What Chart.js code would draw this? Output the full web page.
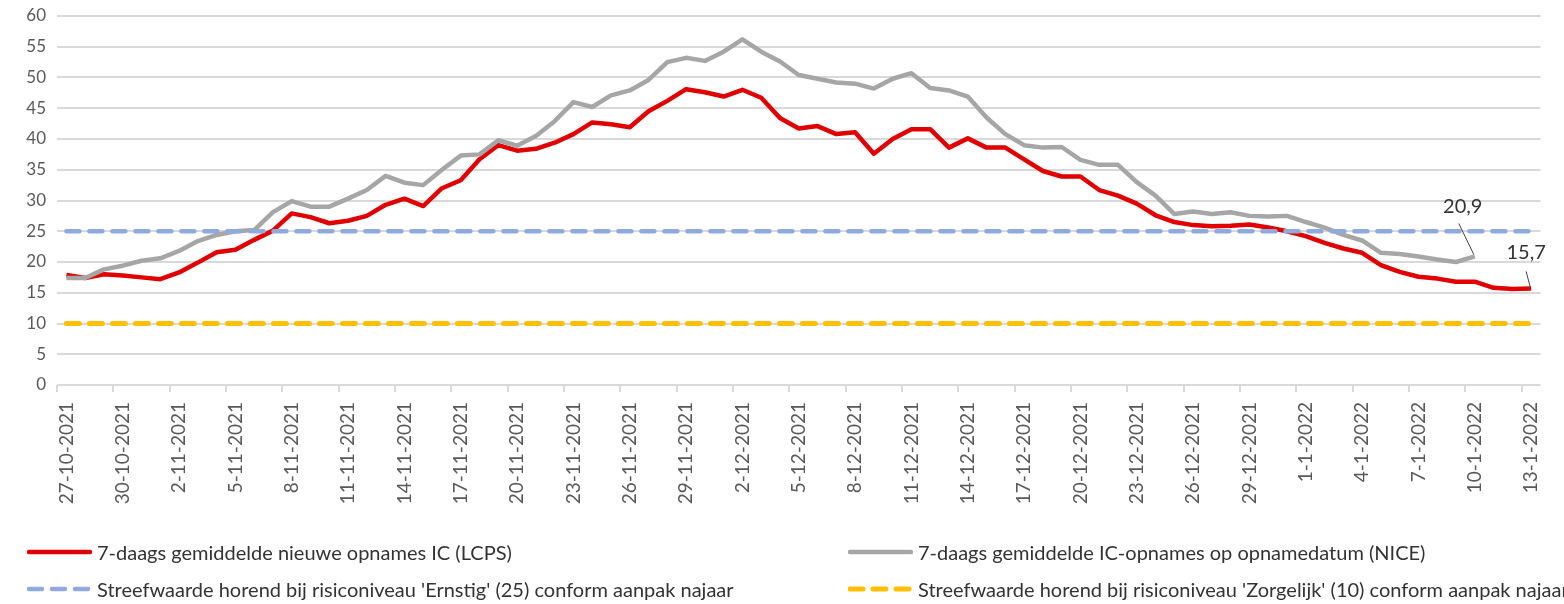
<!DOCTYPE html>
<html lang="nl">
<head>
<meta charset="UTF-8">
<title>IC-opnames</title>
<script src="https://cdn.jsdelivr.net/npm/chart.js"></script>
<style>
  html, body { margin: 0; padding: 0; background: #fff; overflow: hidden; }
  #wrap { position: relative; width: 1564px; height: 604px; overflow: hidden; }
  #grafiek { position: absolute; left: 0; top: 0; }
  .legenda {
    position: absolute; display: flex; align-items: center; white-space: nowrap;
    font-family: Lato, 'Liberation Sans', sans-serif; font-size: 20px; color: #333;
  }
  .legenda svg { margin-right: 5px; }
</style>
</head>
<body>
<div id="wrap">
  <canvas id="grafiek" width="1564" height="604"></canvas>

  <!-- legenda in twee kolommen -->
  <div class="legenda" style="left:27px; top:540px;">
    <svg width="65" height="8"><line x1="2" y1="4" x2="63" y2="4" stroke="#E00000" stroke-width="4.5" stroke-linecap="round"/></svg>
    <span>7-daags gemiddelde nieuwe opnames IC (LCPS)</span>
  </div>
  <div class="legenda" style="left:848px; top:540px;">
    <svg width="65" height="8"><line x1="2" y1="4" x2="63" y2="4" stroke="#A6A6A6" stroke-width="4.5" stroke-linecap="round"/></svg>
    <span>7-daags gemiddelde IC-opnames op opnamedatum (NICE)</span>
  </div>
  <div class="legenda" style="left:27px; top:577px;">
    <svg width="65" height="8"><line x1="2" y1="4" x2="63" y2="4" stroke="#8FAADC" stroke-width="4.5" stroke-linecap="round" stroke-dasharray="13 10"/></svg>
    <span>Streefwaarde horend bij risiconiveau 'Ernstig' (25) conform aanpak najaar</span>
  </div>
  <div class="legenda" style="left:848px; top:577px;">
    <svg width="65" height="8"><line x1="2" y1="4" x2="63" y2="4" stroke="#FFC000" stroke-width="5" stroke-linecap="round" stroke-dasharray="13 10"/></svg>
    <span>Streefwaarde horend bij risiconiveau 'Zorgelijk' (10) conform aanpak najaar</span>
  </div>
</div>

<script>
  // datums (27-10-2021 t/m 13-1-2022)
  const datums = [
    '27-10-2021', '28-10-2021', '29-10-2021', '30-10-2021', '31-10-2021',
    '1-11-2021', '2-11-2021', '3-11-2021', '4-11-2021', '5-11-2021', '6-11-2021', '7-11-2021', '8-11-2021',
    '9-11-2021', '10-11-2021', '11-11-2021', '12-11-2021', '13-11-2021', '14-11-2021', '15-11-2021',
    '16-11-2021', '17-11-2021', '18-11-2021', '19-11-2021', '20-11-2021', '21-11-2021', '22-11-2021',
    '23-11-2021', '24-11-2021', '25-11-2021', '26-11-2021', '27-11-2021', '28-11-2021', '29-11-2021', '30-11-2021',
    '1-12-2021', '2-12-2021', '3-12-2021', '4-12-2021', '5-12-2021', '6-12-2021', '7-12-2021', '8-12-2021',
    '9-12-2021', '10-12-2021', '11-12-2021', '12-12-2021', '13-12-2021', '14-12-2021', '15-12-2021',
    '16-12-2021', '17-12-2021', '18-12-2021', '19-12-2021', '20-12-2021', '21-12-2021', '22-12-2021',
    '23-12-2021', '24-12-2021', '25-12-2021', '26-12-2021', '27-12-2021', '28-12-2021', '29-12-2021',
    '30-12-2021', '31-12-2021',
    '1-1-2022', '2-1-2022', '3-1-2022', '4-1-2022', '5-1-2022', '6-1-2022', '7-1-2022', '8-1-2022',
    '9-1-2022', '10-1-2022', '11-1-2022', '12-1-2022', '13-1-2022'
  ];

  // 7-daags gemiddelde nieuwe opnames IC (LCPS)
  const lcps = [
    17.9, 17.4, 18.0, 17.8, 17.5, 17.2, 18.3, 19.9, 21.6, 22.0,
    23.6, 25.1, 27.9, 27.3, 26.3, 26.7, 27.5, 29.3, 30.3, 29.1,
    32.0, 33.3, 36.7, 39.0, 38.1, 38.4, 39.4, 40.8, 42.7, 42.4,
    41.9, 44.5, 46.2, 48.1, 47.6, 46.9, 48.0, 46.7, 43.4, 41.7,
    42.1, 40.8, 41.1, 37.6, 40.0, 41.6, 41.6, 38.6, 40.1, 38.6,
    38.6, 36.7, 34.8, 33.9, 33.9, 31.7, 30.8, 29.5, 27.6, 26.5,
    26.0, 25.8, 25.9, 26.1, 25.6, 25.0, 24.2, 23.1, 22.2, 21.5,
    19.5, 18.4, 17.6, 17.3, 16.8, 16.8, 15.8, 15.6, 15.7
  ];

  // 7-daags gemiddelde IC-opnames op opnamedatum (NICE), t/m 10-1-2022
  const nice = [
    17.4, 17.4, 18.8, 19.4, 20.2, 20.6, 21.8, 23.4, 24.4, 25.0,
    25.2, 28.1, 29.9, 29.0, 29.0, 30.3, 31.7, 34.0, 32.9, 32.5,
    35.0, 37.3, 37.5, 39.8, 38.9, 40.5, 42.9, 46.0, 45.2, 47.1,
    47.9, 49.6, 52.5, 53.2, 52.7, 54.2, 56.2, 54.2, 52.6, 50.4,
    49.8, 49.2, 49.0, 48.2, 49.8, 50.7, 48.3, 47.9, 46.9, 43.5,
    40.8, 39.0, 38.6, 38.7, 36.6, 35.8, 35.8, 33.0, 30.8, 27.8,
    28.2, 27.8, 28.1, 27.5, 27.4, 27.5, 26.5, 25.6, 24.4, 23.5,
    21.5, 21.3, 20.9, 20.4, 20.0, 20.9
  ];

  // streefwaarden
  const niveauErnstig = 25;
  const niveauZorgelijk = 10;

  // y-as
  const yMin = 0;
  const yMax = 60;
  const yStap = 5;

  // label bij het laatste punt van een lijn, met verbindingslijntje
  const eindLabels = {
    id: 'eindLabels',
    afterDatasetsDraw(chart) {
      const ctx = chart.ctx;
      const items = [
        { ds: 1, tekstDx: -12, tekstDy: -50, lijnDx: -16, lijnDy: -33 },
        { ds: 0, tekstDx: -5, tekstDy: -36, lijnDx: -5, lijnDy: -17 }
      ];
      ctx.save();
      items.forEach(item => {
        const data = chart.data.datasets[item.ds].data;
        const punt = chart.getDatasetMeta(item.ds).data[data.length - 1];
        const tekst = String(data[data.length - 1]).replace('.', ',');
        ctx.strokeStyle = '#404040';
        ctx.lineWidth = 1;
        ctx.beginPath();
        ctx.moveTo(punt.x + item.lijnDx, punt.y + item.lijnDy);
        ctx.lineTo(punt.x - 1, punt.y - 2);
        ctx.stroke();
        ctx.fillStyle = '#333';
        ctx.font = '20px Lato, "Liberation Sans", sans-serif';
        ctx.textAlign = 'center';
        ctx.textBaseline = 'middle';
        ctx.fillText(tekst, punt.x + item.tekstDx, punt.y + item.tekstDy);
      });
      ctx.restore();
    }
  };

  const lijnBasis = { pointRadius: 0, tension: 0, fill: false, borderJoinStyle: 'round' };

  new Chart(document.getElementById('grafiek'), {
    type: 'line',
    data: {
      labels: datums,
      datasets: [
        { ...lijnBasis, label: '7-daags gemiddelde nieuwe opnames IC (LCPS)', data: lcps,
          borderColor: '#E00000', borderWidth: 4.5, order: 4 },
        { ...lijnBasis, label: '7-daags gemiddelde IC-opnames op opnamedatum (NICE)', data: nice,
          borderColor: '#A6A6A6', borderWidth: 4.5, order: 3 },
        { ...lijnBasis, label: "Streefwaarde 'Ernstig' (25)", data: datums.map(() => niveauErnstig),
          borderColor: '#8FAADC', borderWidth: 4.5, borderDash: [13, 10], borderCapStyle: 'round', order: 2 },
        { ...lijnBasis, label: "Streefwaarde 'Zorgelijk' (10)", data: datums.map(() => niveauZorgelijk),
          borderColor: '#FFC000', borderWidth: 5, borderDash: [13, 10], borderCapStyle: 'round', order: 1 }
      ]
    },
    options: {
      responsive: false,
      animation: false,
      layout: { padding: { top: 16, right: 13, left: 0, bottom: 0 } },
      plugins: { legend: { display: false }, tooltip: { enabled: false } },
      scales: {
        x: {
          offset: true,
          border: { display: false },
          grid: {
            drawOnChartArea: false, offset: true, tickLength: 7, lineWidth: 2,
            color: c => c.index % 3 === 0 ? '#D9D9D9' : 'rgba(0,0,0,0)'
          },
          ticks: {
            autoSkip: false, minRotation: 90, maxRotation: 90, padding: 10,
            color: '#595959', font: { family: 'Lato', size: 19 },
            callback: (v, i) => i % 3 === 0 ? datums[i] : ''
          },
          afterFit: s => { s.height = 219; }
        },
        y: {
          min: yMin, max: yMax,
          border: { display: false },
          grid: { color: '#D9D9D9', lineWidth: 2, drawTicks: false },
          ticks: { stepSize: yStap, padding: 11, color: '#595959', font: { family: 'Lato', size: 17 } },
          afterFit: s => { s.width = 57; s.paddingTop = 0; s.paddingBottom = 0; }
        }
      }
    },
    plugins: [eindLabels]
  });
</script>
</body>
</html>
